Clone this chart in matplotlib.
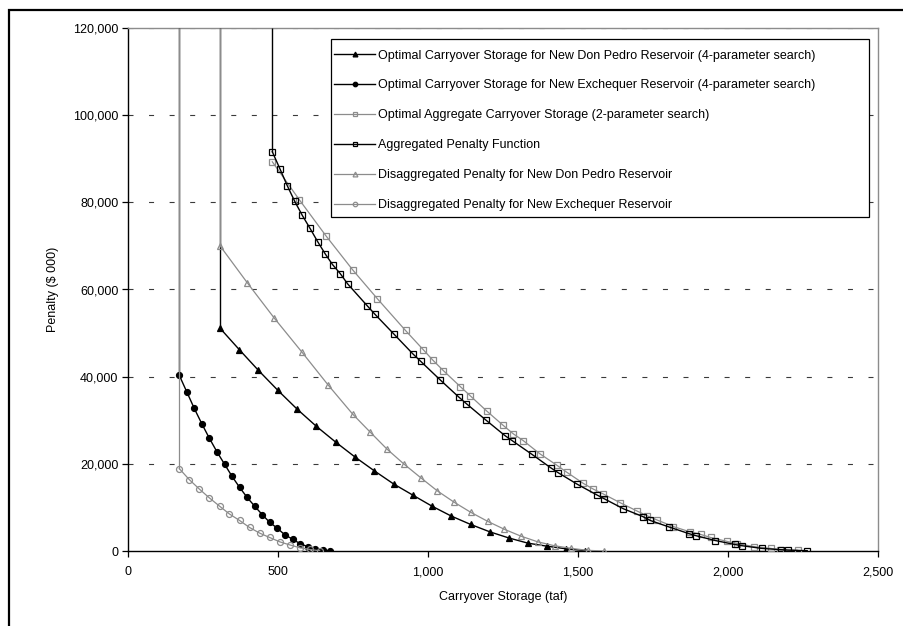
import matplotlib
matplotlib.use("Agg")
import matplotlib.pyplot as plt
from matplotlib.patches import Rectangle

plt.rcParams["font.family"] = ["Liberation Sans", "DejaVu Sans"]

# Carryover storage (taf) and penalty ($ 000) for each series
dp_opt_x = [307, 371, 434, 499, 563, 628, 692, 756, 821, 885, 950, 1013, 1078,
            1142, 1206, 1269, 1333, 1397, 1460, 1524]
dp_opt_y = [51100, 46200, 41500, 36900, 32600, 28600, 25000, 21600, 18400, 15400,
            12800, 10300, 8000, 6100, 4400, 3000, 1800, 1100, 500, 100]

ne_opt_x = [171, 196, 221, 246, 271, 297, 322, 347, 372, 397, 422, 448, 472, 498,
            523, 549, 573, 599, 623, 649, 673]
ne_opt_y = [40300, 36500, 32700, 29200, 25900, 22700, 19900, 17100, 14600, 12300,
            10300, 8300, 6600, 5200, 3700, 2700, 1700, 1000, 500, 150, 0]

agg_opt_x = [481, 571, 660, 749, 831, 925, 984, 1016, 1051, 1108, 1141, 1196, 1251,
             1284, 1318, 1373, 1429, 1462, 1518, 1551, 1584, 1640, 1696, 1730, 1764,
             1818, 1873, 1909, 1942, 1997, 2031, 2087, 2142, 2173, 2232]
agg_opt_y = [89300, 80600, 72300, 64500, 57900, 50600, 46200, 43800, 41400, 37700,
             35600, 32100, 28800, 26900, 25300, 22300, 19700, 18100, 15500, 14200,
             13100, 11100, 9200, 8100, 7100, 5600, 4400, 3800, 3100, 2200, 1700, 1000,
             600, 300, 150]

agg_pen_x = [481, 507, 531, 556, 581, 607, 632, 658, 682, 708, 732, 797, 822, 886,
             950, 976, 1040, 1103, 1128, 1192, 1256, 1281, 1346, 1409, 1433, 1498,
             1562, 1587, 1651, 1716, 1741, 1804, 1869, 1894, 1958, 2022, 2048, 2112,
             2176, 2201, 2264]
agg_pen_y = [91600, 87600, 83800, 80200, 77000, 74000, 71000, 68100, 65700, 63600,
             61300, 56300, 54400, 49800, 45200, 43500, 39300, 35300, 33800, 30100,
             26500, 25300, 22200, 19100, 18000, 15300, 12900, 12000, 9700, 7900, 7000,
             5500, 4000, 3500, 2400, 1500, 1200, 600, 300, 200, 70]

dp_dis_x = [307, 397, 488, 579, 667, 749, 807, 863, 919, 976, 1031, 1087, 1142, 1199,
            1254, 1310, 1366, 1422, 1478, 1532, 1588]
dp_dis_y = [70000, 61600, 53400, 45700, 38100, 31400, 27300, 23400, 20000, 16800,
            13800, 11200, 8900, 6800, 5000, 3400, 2100, 1200, 600, 150, 0]

ne_dis_x = [171, 204, 238, 271, 305, 338, 372, 405, 439, 472, 506, 539, 572, 606, 639]
ne_dis_y = [18900, 16400, 14200, 12200, 10300, 8500, 7000, 5400, 4100, 3100, 2100,
            1400, 760, 350, 50]

labels = [
    "Optimal Carryover Storage for New Don Pedro Reservoir (4-parameter search)",
    "Optimal Carryover Storage for New Exchequer Reservoir (4-parameter search)",
    "Optimal Aggregate Carryover Storage (2-parameter search)",
    "Aggregated Penalty Function",
    "Disaggregated Penalty for New Don Pedro Reservoir",
    "Disaggregated Penalty for New Exchequer Reservoir",
]

x_ticks = [0, 500, 1000, 1500, 2000, 2500]
y_ticks = [0, 20000, 40000, 60000, 80000, 100000, 120000]

BLACK = "#000000"
GRAY = "#8c8c8c"
Y_TOP = 120000
W, H = 904, 626

fig = plt.figure(figsize=(W / 100, H / 100), dpi=100)
ax = fig.add_axes([128 / W, 1 - 551 / H, 750 / W, 523 / H])

# series: (x, y, colour, marker, filled, size, rises to top of axis)
series = [
    (dp_opt_x, dp_opt_y, BLACK, "^", True, 4.6, True),
    (ne_opt_x, ne_opt_y, BLACK, "o", True, 4.3, True),
    (agg_opt_x, agg_opt_y, GRAY, "s", False, 4.6, False),
    (agg_pen_x, agg_pen_y, BLACK, "s", False, 4.6, True),
    (dp_dis_x, dp_dis_y, GRAY, "^", False, 4.6, True),
    (ne_dis_x, ne_dis_y, GRAY, "o", False, 4.3, True),
]

handles = []
for i, (xs, ys, col, mk, filled, ms, rise) in enumerate(series):
    z = 3 + i
    lw = 1.0 if col == BLACK else 0.9
    if rise:
        ax.plot([xs[0], xs[0]], [ys[0], Y_TOP], color=col, lw=lw, zorder=z,
                solid_capstyle="butt")
    h, = ax.plot(xs, ys, color=col, lw=lw, marker=mk, markersize=ms,
                 markerfacecolor=col if filled else "none",
                 markeredgecolor=col, markeredgewidth=0.9, zorder=z,
                 label=labels[i])
    handles.append(h)

ax.set_xlim(0, 2500)
ax.set_ylim(0, Y_TOP)
ax.set_xticks(x_ticks)
ax.set_yticks(y_ticks)
ax.set_xticklabels([f"{v:,}" for v in x_ticks])
ax.set_yticklabels([f"{v:,}" for v in y_ticks])
ax.tick_params(axis="both", direction="out", length=4, width=0.9, labelsize=9,
               colors="#000000", pad=3)
ax.tick_params(axis="x", pad=7)

for v in y_ticks[1:]:
    ax.axhline(v, color="#3a3a3a", lw=0.8, linestyle=(0, (4.5, 14)), zorder=1)

for side in ("left", "bottom"):
    ax.spines[side].set_color("#000000")
    ax.spines[side].set_linewidth(1.0)
for side in ("top", "right"):
    ax.spines[side].set_color("#8c8c8c")
    ax.spines[side].set_linewidth(1.0)

ax.set_xlabel("Carryover Storage (taf)", fontsize=9, labelpad=9)
ax.set_ylabel("Penalty ($ 000)", fontsize=9, labelpad=10)

# legend box: white panel with a thin black border, entries laid on top
fig.patches.append(Rectangle((331 / W, 1 - 217 / H), (869 - 331) / W, 178 / H,
                             transform=fig.transFigure, facecolor="white",
                             edgecolor="#000000", linewidth=0.9, zorder=15))
leg = fig.legend(handles=handles, loc="upper left",
                 bbox_to_anchor=(334 / W, 1 - 49.5 / H),
                 bbox_transform=fig.transFigure,
                 fontsize=9, frameon=False, handlelength=3.3, handletextpad=0.25,
                 labelspacing=1.43, borderpad=0, borderaxespad=0,
                 markerscale=0.75)
leg.set_zorder(20)

# outer frame around the figure region
fig.patches.append(Rectangle((9 / W, -0.05), 1.1, 1 - 10 / H + 0.05,
                             transform=fig.transFigure, fill=False,
                             edgecolor="#000000", linewidth=1.6))

fig.savefig("out.png", dpi=100)
